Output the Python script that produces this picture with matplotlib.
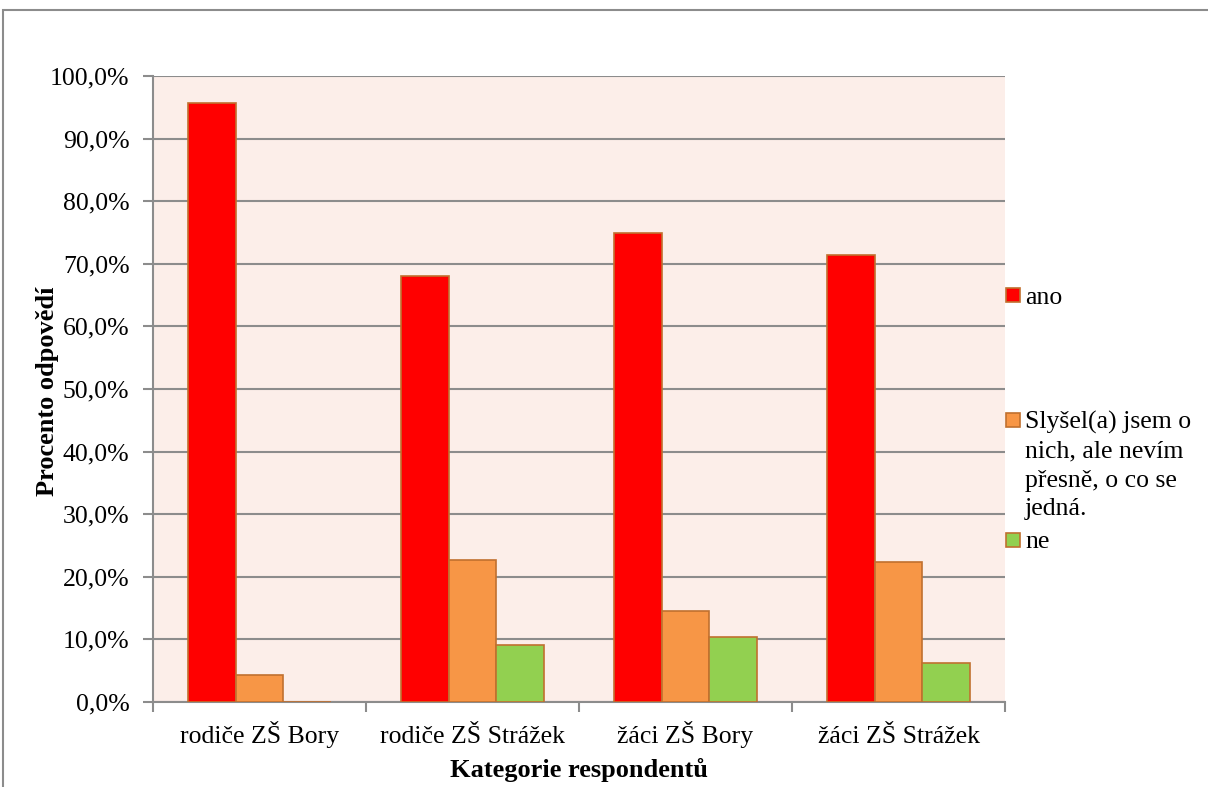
import matplotlib
matplotlib.use("Agg")
import matplotlib.pyplot as plt
import numpy as np
from matplotlib.patches import Rectangle

categories = ["rodiče ZŠ Bory", "rodiče ZŠ Strážek", "žáci ZŠ Bory", "žáci ZŠ Strážek"]
series_names = ["ano", "Slyšel(a) jsem o\nnich, ale nevím\npřesně, o co se\njedná.", "ne"]
ano = [95.7, 68.1, 74.9, 71.4]
slysel = [4.3, 22.7, 14.5, 22.4]
ne = [0.0, 9.1, 10.4, 6.2]
yticks = [0, 10, 20, 30, 40, 50, 60, 70, 80, 90, 100]
ytick_labels = ["0,0%", "10,0%", "20,0%", "30,0%", "40,0%", "50,0%", "60,0%", "70,0%", "80,0%", "90,0%", "100,0%"]

colors = ["#FF0000", "#F79646", "#92D050"]
edge = "#C0702F"
plt.rcParams['font.family'] = ['Liberation Serif', 'DejaVu Serif']
FS = 18.5
FSB = 19

W, H = 1208, 787
fig = plt.figure(figsize=(W / 100, H / 100), dpi=100)
# outer chart border
fig.patches.append(Rectangle((3 / W, -0.05), 1.1, 1 - 10 / H + 0.05, transform=fig.transFigure,
                             fill=False, edgecolor="#8C8C8C", linewidth=1.5))

ax = fig.add_axes([153 / W, 1 - 702 / H, (1005 - 153) / W, (702 - 76) / H])
ax.set_facecolor("#FCEEE9")

x = np.arange(len(categories))
bw = 0.223
for i, vals in enumerate([ano, slysel, ne]):
    ax.bar(x + (i - 1) * bw, vals, width=bw, color=colors[i], edgecolor=edge, linewidth=1.2, zorder=3)

ax.set_xlim(-0.5, len(categories) - 0.5)
ax.set_ylim(0, 100)
ax.set_yticks(yticks)
ax.set_yticklabels(ytick_labels, fontsize=FS)
ax.set_xticks(x)
ax.set_xticklabels(categories, fontsize=FS, va='baseline')
ax.tick_params(axis='x', length=0, pad=29.5)
ax.set_xticks(np.arange(len(categories) + 1) - 0.5, minor=True)
ax.tick_params(axis='x', which='minor', length=7, width=1.5, color="#8C8C8C")
ax.tick_params(axis='y', length=7, width=1.5, color="#8C8C8C", pad=10)
ax.grid(axis='y', color="#8C8C8C", linewidth=1.5, zorder=1)
ax.set_axisbelow(True)
for s in ["top", "right"]:
    ax.spines[s].set_visible(False)
for s in ["left", "bottom"]:
    ax.spines[s].set_color("#8C8C8C")
    ax.spines[s].set_linewidth(1.5)

fig.text(48 / W, 1 - 391 / H, "Procento odpovědí", fontsize=FSB, fontweight='bold',
         rotation=90, ha='center', va='center')
fig.text(579 / W, 1 - 777 / H, "Kategorie respondentů", fontsize=FSB, fontweight='bold',
         ha='center', va='baseline')

# legend entries
ypos = [295, 420, 540]
line_h = 29
for i, name in enumerate(series_names):
    yc = ypos[i]
    fig.patches.append(Rectangle((1006 / W, 1 - (yc + 7) / H), 14 / W, 14 / H,
                                 transform=fig.transFigure, facecolor=colors[i],
                                 edgecolor=edge, linewidth=1.2))
    for j, line in enumerate(name.split("\n")):
        fig.text(1025 / W, 1 - (yc + j * line_h) / H, line, fontsize=FS,
                 ha='left', va='center_baseline')

fig.savefig("out.png", dpi=100)
